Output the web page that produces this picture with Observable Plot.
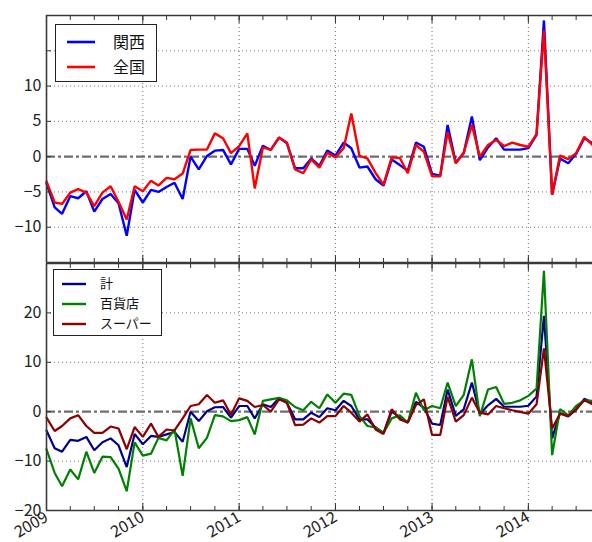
<!DOCTYPE html>
<html><head><meta charset="utf-8">
<script src="https://cdn.jsdelivr.net/npm/d3@7"></script>
<script src="https://cdn.jsdelivr.net/npm/@observablehq/plot@0.6"></script>
<style>
body{margin:0;background:#fff;font-family:"Noto Sans CJK JP",sans-serif;}
#wrap{position:relative;width:592px;height:542px;overflow:hidden;background:#fff;}
#wrap svg{position:absolute;left:0;overflow:visible;background:transparent;}
.legend{position:absolute;background:#fff;border:1.3px solid #222;box-sizing:border-box;color:#111;}
.legend .lb{position:absolute;line-height:1;white-space:nowrap;}
</style></head>
<body><div id="wrap"></div>
<script>
// ---- data (monthly, 2009-01 .. 2014-09) ----
const startMonth = "2009-01";
const endMonth = "2014-09";
const kansai = [-3.8,-7.2,-8.1,-5.6,-5.9,-4.9,-7.8,-6.0,-5.3,-6.6,-11.2,-4.7,
  -6.5,-4.7,-5.0,-4.3,-3.7,-6.0,0.0,-1.8,0.1,0.85,0.95,-1.1,
  1.1,1.1,-1.3,1.55,0.95,2.7,1.9,-1.65,-1.65,-0.25,-1.3,0.85,
  0.15,2.0,1.2,-1.55,-1.4,-3.2,-4.1,-0.4,-1.2,-2.0,2.0,1.4,
  -2.45,-2.7,4.5,-0.85,0.5,5.7,-0.5,1.3,2.6,1.0,1.0,1.0,
  1.2,3.1,19.3,-5.4,-0.25,-0.95,0.4,2.6,1.9];
const zenkoku = [-3.5,-6.5,-6.7,-5.1,-4.6,-5.1,-7.0,-5.1,-4.2,-6.4,-8.9,-4.2,
  -4.9,-3.4,-4.1,-3.0,-3.2,-2.4,0.95,1.0,1.0,3.3,2.6,0.5,
  1.5,3.3,-4.5,1.3,0.95,2.7,2.0,-1.8,-2.35,-0.4,-1.55,0.55,
  -0.1,1.2,6.1,0.1,-0.25,-2.3,-4.0,-0.1,-0.2,-2.35,1.65,0.7,
  -2.8,-2.8,3.5,-0.95,0.55,4.5,0.0,1.65,2.35,1.5,2.0,1.65,
  1.4,3.2,17.9,-5.4,0.15,-0.35,0.5,2.8,1.65];
const total = [-3.8,-7.4,-8.1,-5.7,-5.9,-5.1,-7.8,-6.2,-5.4,-6.8,-11.2,-4.5,
  -6.6,-4.9,-5.1,-4.6,-4.1,-6.1,0.0,-1.9,0.1,0.9,0.95,-1.2,
  1.15,1.15,-1.35,1.5,0.95,2.7,1.8,-1.55,-1.55,-0.2,-1.1,0.7,
  0.3,2.2,1.15,-1.55,-1.55,-3.2,-4.3,0.0,-1.1,-2.2,2.0,0.8,
  -2.4,-2.7,4.5,-0.85,0.5,5.9,-0.5,1.3,2.6,1.0,1.0,1.0,
  1.2,3.1,19.4,-5.4,-0.25,-0.95,0.4,2.6,1.9];
const depato = [-7.6,-12.4,-15.1,-11.7,-13.7,-8.1,-12.4,-9.1,-9.2,-11.5,-16.1,-6.2,
  -8.9,-8.5,-5.3,-5.8,-3.6,-13.0,-1.35,-7.4,-5.3,-0.7,-0.95,-1.9,
  -1.7,-1.1,-4.6,2.2,2.5,2.8,2.3,0.95,0.3,2.0,0.7,3.5,
  1.8,3.65,3.4,-0.9,-2.9,-3.2,-4.3,-1.35,-0.75,-2.2,3.85,0.3,
  1.15,0.7,5.9,1.15,3.4,10.6,-0.9,4.5,5.0,1.6,1.8,2.3,
  3.2,4.7,28.5,-8.8,0.5,-0.75,1.15,2.3,2.2];
const super_ = [-1.2,-3.9,-2.9,-1.35,-0.7,-2.9,-4.3,-4.3,-3.0,-3.4,-7.6,-3.1,
  -5.1,-2.4,-5.1,-3.6,-3.8,-1.35,1.15,1.5,3.4,1.8,2.3,-0.6,
  2.7,2.2,0.95,1.35,0.0,2.5,1.8,-2.7,-2.6,-1.35,-2.2,-0.9,
  -0.9,1.15,-0.2,-2.0,-0.55,-3.6,-4.5,0.5,-1.55,-2.2,1.35,2.5,
  -4.7,-4.7,3.0,-2.0,-0.7,2.85,-0.2,-0.55,1.15,0.7,0.3,-0.05,
  -0.4,1.5,12.8,-3.4,-0.4,-0.9,0.5,2.3,1.5];
const topSeries = [{name:"関西", values:kansai, color:"#0000ff"},{name:"全国", values:zenkoku, color:"#ff0000"}];
const botSeries = [{name:"計", values:total, color:"#00008b"},{name:"百貨店", values:depato, color:"#008000"},{name:"スーパー", values:super_, color:"#8b0000"}];
const topTickLabels = [-10,-5,0,5,10];
const topGrid = [-10,-5,5,10,15];
const botTickLabels = [-20,-10,0,10,20];
const botGrid = [-10,10,20];
const yearLabels = [2009,2010,2011,2012,2013,2014];

// ---- build ----
const d0 = d3.utcParse("%Y-%m")(startMonth), d1 = d3.utcParse("%Y-%m")(endMonth);
const months = d3.utcMonth.range(d0, d3.utcMonth.offset(d1,1));
const years = yearLabels.map(y => new Date(Date.UTC(y,0,1)));
const quarters = d3.utcMonth.every(3).range(d0, d3.utcMonth.offset(d1,1));
const rows = s => s.values.map((v,i) => ({date: months[i], value: v, series: s.name}));
const grid = {stroke:"#000", strokeOpacity:0.55, strokeDasharray:"1,3", strokeWidth:1};
const spine = {stroke:"#3a3a3a", strokeWidth:1.6};
const FF = '"Noto Sans CJK JP", sans-serif';

function panel({series, ydom, gridY, labels, height, mt, mb, xlabels, lw}) {
  const marks = [
    Plot.ruleY(gridY, grid),
    Plot.ruleX(years.slice(1), grid),
    Plot.ruleY([0], {stroke:"#6e6e6e", strokeWidth:2.2, strokeDasharray:"9,3,3,3"}),
    ...series.map(s => Plot.line(rows(s), {x:"date", y:"value", stroke:s.color, strokeWidth:lw, strokeLinejoin:"miter"})),
    Plot.axisY({ticks: [...gridY, 0], tickSize:-5, tickFormat:()=>"", label:null, stroke:"#333"}),
    Plot.axisY({ticks: labels, tickSize:0, tickPadding:5, label:null, fill:"#222", fontSize:16, fontFamily:FF}),
    Plot.axisX({anchor:"top", ticks: quarters, tickSize:-4, tickFormat:()=>"", label:null, stroke:"#333"}),
    Plot.axisX({anchor:"bottom", ticks: quarters, tickSize:-4, tickFormat:()=>"", label:null, stroke:"#333"}),
    Plot.axisX({anchor:"top", ticks: years, tickSize:-7, tickFormat:()=>"", label:null, stroke:"#333"}),
    Plot.axisX({anchor:"bottom", ticks: years, tickSize:-7, tickFormat:()=>"", label:null, stroke:"#333"}),
    Plot.ruleY([ydom[0], ydom[1]], spine),
    Plot.ruleX([d0], spine)
  ];
  if (xlabels) marks.push(Plot.text(years, {x: d => d, y: ydom[0], text: d => d3.utcFormat("%Y")(d),
      rotate:-30, textAnchor:"end", lineAnchor:"top", dx:-3, dy:0, fill:"#222", fontSize:16, fontFamily:FF}));
  return Plot.plot({
    width:592, height, marginTop:mt, marginBottom:mb, marginLeft:46, marginRight:0,
    style:{fontFamily:FF, fontSize:"16px", background:"transparent", overflow:"visible"},
    x:{type:"utc", domain:[d0,d1], axis:null},
    y:{domain:ydom, axis:null},
    marks
  });
}

const wrap = document.getElementById("wrap");
const p1 = panel({series:topSeries, ydom:[-15,20], gridY:topGrid, labels:topTickLabels, height:263, mt:15, mb:1, xlabels:false, lw:2.4});
p1.style.top = "0px";
const p2 = panel({series:botSeries, ydom:[-20,30], gridY:botGrid, labels:botTickLabels, height:280, mt:1, mb:32, xlabels:true, lw:2.2});
p2.style.top = "262px";
wrap.appendChild(p1); wrap.appendChild(p2);

function legend(series, box, fs, lw) {
  const div = document.createElement("div");
  div.className = "legend";
  Object.assign(div.style, {left:box.left+"px", top:box.top+"px", width:box.w+"px", height:box.h+"px", fontSize:fs+"px"});
  series.forEach((s,i) => {
    const cy = box.first + i*box.step;
    const sw = document.createElementNS("http://www.w3.org/2000/svg","svg");
    sw.setAttribute("width", box.sw); sw.setAttribute("height", 6);
    sw.style.position="absolute"; sw.style.left = box.swx+"px"; sw.style.top = (cy-3)+"px";
    sw.innerHTML = `<line x1="0" x2="${box.sw}" y1="3" y2="3" stroke="${s.color}" stroke-width="${lw}"/>`;
    div.appendChild(sw);
    const lb = document.createElement("div");
    lb.className = "lb"; lb.textContent = s.name;
    lb.style.left = box.tx+"px"; lb.style.top = (cy - fs*0.55)+"px";
    div.appendChild(lb);
  });
  wrap.appendChild(div);
}
legend(topSeries, {left:55, top:24, w:102, h:58, first:16.5, step:25, swx:11, sw:28, tx:57}, 16, 2.6);
legend(botSeries, {left:53, top:269, w:109, h:67, first:13.5, step:20, swx:8, sw:24, tx:46}, 13, 2.4);
</script></body></html>
